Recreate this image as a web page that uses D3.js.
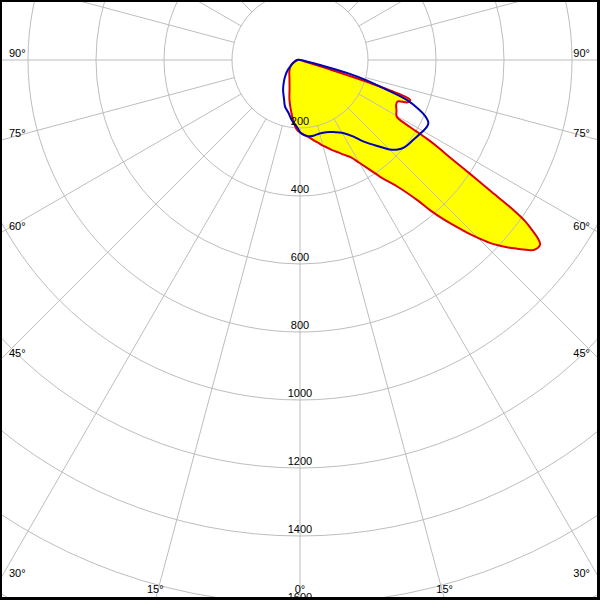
<!DOCTYPE html>
<html>
<head>
<meta charset="utf-8">
<script src="https://cdn.jsdelivr.net/npm/d3@7"></script>
<style>
  html, body { margin: 0; padding: 0; background: #fff; }
  svg { display: block; }
  text { font-family: "Liberation Sans", Arial, sans-serif; font-size: 11px; fill: #000; }
</style>
</head>
<body>
<svg id="chart" width="600" height="600"></svg>
<script>
// ---- data (gamma angle in degrees from nadir; + = right half, - = left half; values in cd) ----
const redAngles = [-120,-100,-90,-75,-60,-45,-30,-20,-14.7,-10,-6.5,-3,0,2.5,5,7.5,10,12.5,15,17.5,20,22.5,25,27.5,30,32.5,35,37.5,40,41,42,43,44,45,46,47,48,49,50,51,52.4,53.1,53.7,54.4,55,55.5,56.2,57,57.7,58.2,58.5,58.8,59.6,62.5,65,67,68.5,70,71,71.5,72,72.5,73,75,90];
const redValues = [0,3,8,16,30,44,62,90,122,152,178,203,213,219,225,232,241,250,261,271,283,294,308,322,349,383,426,468,540,589,630,666,705,740,773,800,824,846,868,887,891,876,850,814,754,678,602,526,480,440,400,360,330,320,312,312,340,345,315,260,200,100,20,5,2];

const blueAngles = [-120,-100,-90,-70,-56,-50,-41.9,-35,-29.5,-22,-17.8,-12,-7.9,-2,0,2.5,5,7.5,10,15,20,22.5,25,30,35,37.5,40,42.5,45,47.5,50,55,60,62.5,64,66,67.5,69.5,71.5,73,74.5,76,78,80,90];
const blueValues = [0,3,8,18,35,48,66,84,101,125,144,160,178,200,212,220,224,226,226,224,226,229,234,247,275,300,322,345,372,390,400,408,418,422,420,402,378,335,250,205,150,61,20,5,1];

const radialTicks = [200,400,600,800,1000,1200,1400,1600];
const gridCircles = [200,400,600,800,1000,1200,1400,1600,1800,2000];
const spokeAngles = d3.range(0, 360, 15);
const sideLabelAngles = [90,75,60,45,30];
const bottomLabelAngles = [-15,0,15];

// ---- layout ----
const W = 600, H = 600;
const cx = 300, cy = 60;
const svg = d3.select("#chart");
const rScale = d3.scaleLinear().domain([0, 200]).range([0, 68]);
const toRad = d => d * Math.PI / 180;
// d3 radial angle: 0 = up, clockwise. We want 0 = down, positive to the right.
const radialAngle = deg => Math.PI - toRad(deg);

const g = svg.append("g").attr("transform", `translate(${cx},${cy})`);

const redData = redAngles.map((a, i) => [a, redValues[i]]);
const blueData = blueAngles.map((a, i) => [a, blueValues[i]]);

const line = d3.lineRadial()
  .angle(d => radialAngle(d[0]))
  .radius(d => rScale(d[1]))
  .curve(d3.curveCatmullRomClosed.alpha(0.5));

// yellow fill
g.append("path").attr("d", line(redData)).attr("fill", "#ffff00").attr("stroke", "none");

// grid
const grid = g.append("g").attr("stroke", "#bdbdbd").attr("fill", "none").attr("stroke-width", 1);
grid.selectAll("circle").data(gridCircles).join("circle").attr("r", d => rScale(d));
grid.selectAll("line").data(spokeAngles).join("line")
  .attr("x1", d => rScale(200) * Math.sin(toRad(d)))
  .attr("y1", d => rScale(200) * Math.cos(toRad(d)))
  .attr("x2", d => rScale(3000) * Math.sin(toRad(d)))
  .attr("y2", d => rScale(3000) * Math.cos(toRad(d)));

// curves
g.append("path").attr("d", line(redData)).attr("fill", "none").attr("stroke", "#e00000").attr("stroke-width", 2).attr("stroke-linejoin", "round");
g.append("path").attr("d", line(blueData)).attr("fill", "none").attr("stroke", "#0000b4").attr("stroke-width", 2).attr("stroke-linejoin", "round");

// radial value labels
svg.selectAll("text.rl").data(radialTicks).join("text").attr("class", "rl")
  .attr("x", cx).attr("y", d => cy + rScale(d) - 3)
  .attr("text-anchor", "middle").text(d => d);

// side angle labels
const edgeY = a => cy + (W / 2) / Math.tan(toRad(a));
svg.selectAll("text.ll").data(sideLabelAngles).join("text").attr("class", "ll")
  .attr("x", 9).attr("y", d => edgeY(d) - 3).attr("text-anchor", "start").text(d => d + "°");
svg.selectAll("text.rtl").data(sideLabelAngles).join("text").attr("class", "rtl")
  .attr("x", 590).attr("y", d => edgeY(d) - 3).attr("text-anchor", "end").text(d => d + "°");
// bottom angle labels
svg.selectAll("text.bl").data(bottomLabelAngles).join("text").attr("class", "bl")
  .attr("x", d => cx + (H - cy) * Math.tan(toRad(d))).attr("y", 593)
  .attr("text-anchor", "middle").text(d => Math.abs(d) + "°");

// frame
svg.append("rect").attr("x", 0).attr("y", 0).attr("width", W).attr("height", 2).attr("fill", "#000");
svg.append("rect").attr("x", 0).attr("y", 0).attr("width", 2).attr("height", H).attr("fill", "#000");
svg.append("rect").attr("x", W - 3).attr("y", 0).attr("width", 3).attr("height", H).attr("fill", "#000");
svg.append("rect").attr("x", 0).attr("y", H - 3).attr("width", W).attr("height", 3).attr("fill", "#000");
</script>
</body>
</html>
